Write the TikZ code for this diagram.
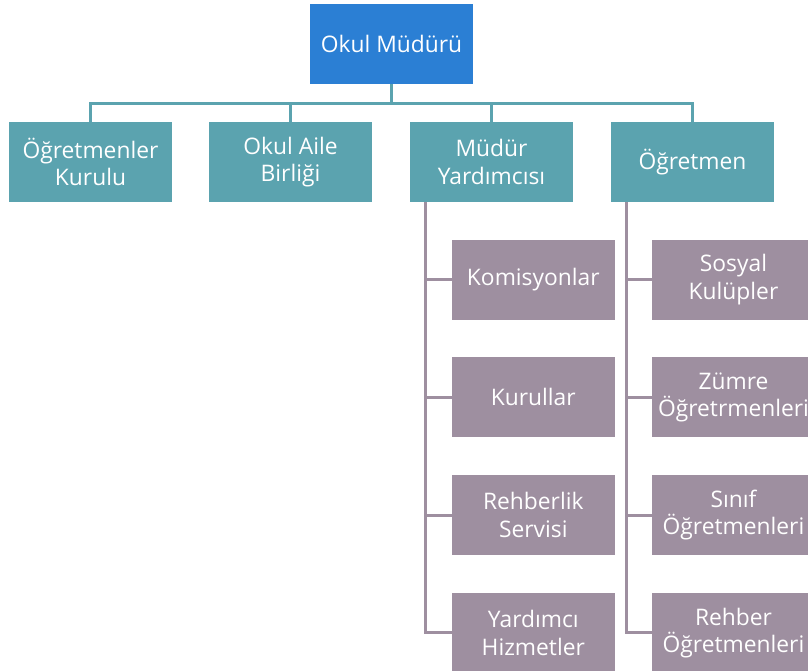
\documentclass[tikz,border=0pt]{standalone}
\usepackage{fontspec}
\setmainfont{Open Sans}
\usepackage{xcolor}
\usepackage{tikz}
\usetikzlibrary{positioning}

\definecolor{headblue}{RGB}{43,127,212}
\definecolor{unitteal}{RGB}{91,163,175}
\definecolor{submauve}{RGB}{158,143,160}

\begin{document}
\begin{tikzpicture}[x=0.75pt,y=-0.75pt,
  box/.style={minimum width=122.25pt,minimum height=60pt,inner sep=0pt,
    align=center,text=white,font=\fontsize{17.1}{20.5}\selectfont},
  headbox/.style={box,fill=headblue},
  unitbox/.style={box,fill=unitteal},
  subbox/.style={box,fill=submauve},
  tealline/.style={draw=unitteal,line width=2.25pt},
  mauveline/.style={draw=submauve,line width=2.25pt}]
  \useasboundingbox (0,0) rectangle (808,671);

  \node[headbox] (mudur) at (391.5,44) {Okul Müdürü};

  \node[unitbox] (ogkurul) at (90.5,162) {Öğretmenler\\Kurulu};
  \node[unitbox] (aile) at (290.5,162) {Okul Aile\\Birliği};
  \node[unitbox] (yard) at (491.5,162) {Müdür\\Yardımcısı};
  \node[unitbox] (ogret) at (692.5,162) {Öğretmen};

  \node[subbox] (komis) at (533.3,279.5) {Komisyonlar};
  \node[subbox] (kurul) at (533.3,397.3) {Kurullar};
  \node[subbox] (rehserv) at (533.3,515.1) {Rehberlik\\Servisi};
  \node[subbox] (hizmet) at (533.3,632.9) {Yardımcı\\Hizmetler};

  \node[subbox] (sosyal) at (733.5,279.5) {Sosyal\\Kulüpler};
  \node[subbox] (zumre) at (733.5,397.3) {Zümre\\Öğretrmenleri};
  \node[subbox] (sinif) at (733.5,515.1) {Sınıf\\Öğretmenleri};
  \node[subbox] (rehogr) at (733.5,632.9) {Rehber\\Öğretmenleri};

  % head to units
  \draw[tealline] (mudur.south) -- ++(0,19) -| (ogkurul.north);
  \draw[tealline] (mudur.south) -- ++(0,19) -| (aile.north);
  \draw[tealline] (mudur.south) -- ++(0,19) -| (yard.north);
  \draw[tealline] (mudur.south) -- ++(0,19) -| (ogret.north);

  % units to sub units
  \coordinate (yardstem) at (425.5,202);
  \coordinate (ogrstem) at (626,202);
  \draw[mauveline] (yardstem) |- (komis.west);
  \draw[mauveline] (yardstem) |- (kurul.west);
  \draw[mauveline] (yardstem) |- (rehserv.west);
  \draw[mauveline] (yardstem) |- (hizmet.west);
  \draw[mauveline] (ogrstem) |- (sosyal.west);
  \draw[mauveline] (ogrstem) |- (zumre.west);
  \draw[mauveline] (ogrstem) |- (sinif.west);
  \draw[mauveline] (ogrstem) |- (rehogr.west);
\end{tikzpicture}
\end{document}
